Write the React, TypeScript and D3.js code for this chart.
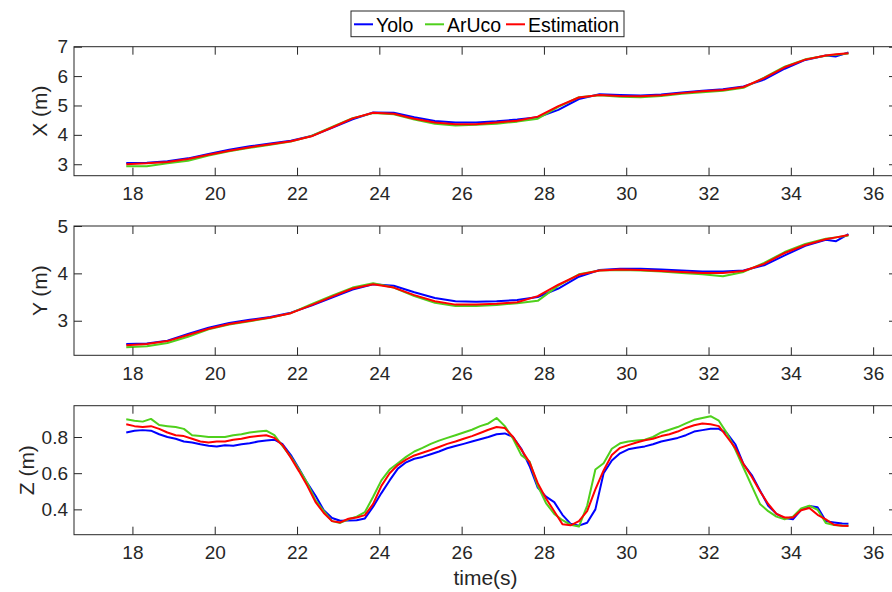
import React, { useEffect, useRef } from 'react';
import * as d3 from 'd3';

const seriesNames = ['Yolo', 'ArUco', 'Estimation'];
const seriesColors = ['#0000ff', '#4fd01c', '#ff0000'];
const timeTicks = [18, 20, 22, 24, 26, 28, 30, 32, 34, 36];

// X and Y panels
const timeXY = [17.85, 18.35, 18.85, 19.35, 19.85, 20.35, 20.85, 21.35, 21.85, 22.35, 22.85, 23.35, 23.85, 24.35, 24.85, 25.35, 25.85, 26.35, 26.85, 27.35, 27.85, 28.35, 28.85, 29.35, 29.85, 30.35, 30.85, 31.35, 31.85, 32.35, 32.85, 33.35, 33.85, 34.35, 34.85, 35.1, 35.4];
const xYolo = [3.04, 3.05, 3.1, 3.2, 3.35, 3.49, 3.61, 3.71, 3.8, 3.96, 4.24, 4.53, 4.76, 4.75, 4.6, 4.47, 4.42, 4.42, 4.46, 4.52, 4.6, 4.85, 5.22, 5.38, 5.36, 5.34, 5.37, 5.44, 5.5, 5.55, 5.65, 5.88, 6.25, 6.55, 6.7, 6.67, 6.8];
const xAruco = [2.93, 2.93, 3.03, 3.12, 3.3, 3.44, 3.56, 3.66, 3.77, 3.96, 4.27, 4.57, 4.74, 4.7, 4.52, 4.38, 4.32, 4.34, 4.38, 4.45, 4.55, 4.95, 5.28, 5.35, 5.3, 5.28, 5.32, 5.4, 5.45, 5.5, 5.6, 5.95, 6.32, 6.57, 6.69, 6.73, 6.77];
const xEst = [3.0, 3.03, 3.08, 3.18, 3.32, 3.46, 3.58, 3.68, 3.78, 3.95, 4.25, 4.56, 4.75, 4.72, 4.55, 4.42, 4.36, 4.36, 4.42, 4.48, 4.62, 4.98, 5.27, 5.36, 5.32, 5.31, 5.35, 5.42, 5.48, 5.53, 5.63, 5.93, 6.3, 6.56, 6.7, 6.74, 6.78];
const yYolo = [2.51, 2.52, 2.58, 2.72, 2.85, 2.95, 3.02, 3.08, 3.17, 3.32, 3.49, 3.66, 3.77, 3.74, 3.6, 3.48, 3.41, 3.4, 3.41, 3.44, 3.5, 3.68, 3.93, 4.07, 4.1, 4.1, 4.08, 4.06, 4.04, 4.04, 4.06, 4.17, 4.38, 4.58, 4.71, 4.68, 4.83];
const yAruco = [2.44, 2.46, 2.53, 2.66, 2.82, 2.92, 2.99, 3.06, 3.16, 3.35, 3.53, 3.7, 3.79, 3.7, 3.52, 3.38, 3.31, 3.31, 3.33, 3.37, 3.42, 3.74, 3.98, 4.06, 4.07, 4.06, 4.04, 4.01, 3.98, 3.94, 4.03, 4.22, 4.45, 4.62, 4.73, 4.76, 4.8];
const yEst = [2.48, 2.51, 2.57, 2.7, 2.83, 2.93, 3.0, 3.07, 3.16, 3.33, 3.51, 3.68, 3.77, 3.7, 3.54, 3.41, 3.34, 3.34, 3.36, 3.39, 3.52, 3.76, 3.97, 4.06, 4.08, 4.07, 4.05, 4.03, 4.01, 4.01, 4.05, 4.2, 4.43, 4.6, 4.72, 4.76, 4.81];

// Z panel
const timeZ = [17.85, 18.05, 18.25, 18.45, 18.65, 18.85, 19.05, 19.25, 19.45, 19.65, 19.85, 20.05, 20.25, 20.45, 20.65, 20.85, 21.05, 21.25, 21.45, 21.65, 21.85, 22.05, 22.25, 22.45, 22.65, 22.85, 23.05, 23.25, 23.45, 23.65, 23.85, 24.05, 24.25, 24.45, 24.65, 24.85, 25.05, 25.25, 25.45, 25.65, 25.85, 26.05, 26.25, 26.45, 26.65, 26.85, 27.05, 27.25, 27.45, 27.65, 27.85, 28.05, 28.25, 28.45, 28.65, 28.85, 29.05, 29.25, 29.45, 29.65, 29.85, 30.05, 30.25, 30.45, 30.65, 30.85, 31.05, 31.25, 31.45, 31.65, 31.85, 32.05, 32.25, 32.45, 32.65, 32.85, 33.05, 33.25, 33.45, 33.65, 33.85, 34.05, 34.25, 34.45, 34.65, 34.85, 35.05, 35.25, 35.4];
const zYolo = [0.825, 0.835, 0.838, 0.835, 0.815, 0.8, 0.79, 0.775, 0.77, 0.76, 0.752, 0.748, 0.755, 0.752, 0.76, 0.765, 0.775, 0.78, 0.785, 0.76, 0.7, 0.625, 0.545, 0.475, 0.395, 0.352, 0.337, 0.338, 0.34, 0.35, 0.415, 0.49, 0.56, 0.625, 0.66, 0.68, 0.69, 0.705, 0.72, 0.738, 0.75, 0.762, 0.775, 0.788, 0.8, 0.815, 0.82, 0.8, 0.735, 0.64, 0.52, 0.47, 0.44, 0.37, 0.32, 0.31, 0.326, 0.4, 0.6, 0.67, 0.71, 0.732, 0.74, 0.748, 0.76, 0.775, 0.785, 0.795, 0.81, 0.83, 0.838, 0.845, 0.845, 0.82, 0.76, 0.65, 0.59, 0.505, 0.42, 0.375, 0.352, 0.345, 0.398, 0.418, 0.412, 0.335, 0.328, 0.322, 0.32];
const zAruco = [0.898, 0.89, 0.885, 0.9, 0.866, 0.86, 0.855, 0.845, 0.81, 0.805, 0.8, 0.8, 0.8, 0.81, 0.815, 0.825, 0.83, 0.835, 0.81, 0.75, 0.69, 0.62, 0.545, 0.45, 0.39, 0.335, 0.325, 0.345, 0.36, 0.385, 0.47, 0.56, 0.62, 0.655, 0.69, 0.72, 0.74, 0.762, 0.78, 0.795, 0.81, 0.825, 0.84, 0.86, 0.875, 0.905, 0.86, 0.79, 0.7, 0.665, 0.53, 0.435, 0.375, 0.34, 0.315, 0.305, 0.42, 0.62, 0.655, 0.735, 0.765, 0.775, 0.78, 0.785, 0.8, 0.825, 0.84, 0.855, 0.875, 0.895, 0.905, 0.915, 0.89, 0.82, 0.73, 0.63, 0.53, 0.43, 0.39, 0.36, 0.345, 0.36, 0.405, 0.42, 0.398, 0.325, 0.313, 0.31, 0.31];
const zEst = [0.87, 0.86, 0.855, 0.86, 0.845, 0.825, 0.81, 0.805, 0.79, 0.775, 0.77, 0.775, 0.775, 0.785, 0.79, 0.8, 0.805, 0.81, 0.795, 0.755, 0.685, 0.61, 0.53, 0.44, 0.38, 0.335, 0.328, 0.348, 0.355, 0.368, 0.43, 0.53, 0.6, 0.645, 0.675, 0.698, 0.713, 0.728, 0.745, 0.762, 0.775, 0.79, 0.805, 0.822, 0.84, 0.855, 0.85, 0.8, 0.73, 0.66, 0.545, 0.46, 0.39, 0.318, 0.312, 0.335, 0.39, 0.51, 0.615, 0.7, 0.74, 0.755, 0.77, 0.782, 0.79, 0.805, 0.815, 0.83, 0.85, 0.865, 0.875, 0.87, 0.86, 0.8, 0.74, 0.65, 0.58, 0.5, 0.43, 0.375, 0.355, 0.355, 0.395, 0.408, 0.37, 0.345, 0.315, 0.31, 0.308];

const FONT = '"Liberation Sans", Arial, Helvetica, sans-serif';
const INK = '#262626';

const App = () => {
  const svgRef = useRef<SVGSVGElement>(null);

  useEffect(() => {
    const svg = d3.select(svgRef.current);
    svg.selectAll('*').remove();

    const left = 74;
    const right = 897;
    const x = d3.scaleLinear().domain([16.58, 36.58]).range([left, right]);

    const panels = [
      { label: 'X (m)', top: 46.7, bottom: 175.7, domain: [2.61, 7], ticks: [3, 4, 5, 6, 7], fmt: d3.format('d'), time: timeXY, series: [xYolo, xAruco, xEst], labelX: 47 },
      { label: 'Y (m)', top: 226, bottom: 355.3, domain: [2.27, 5], ticks: [3, 4, 5], fmt: d3.format('d'), time: timeXY, series: [yYolo, yAruco, yEst], labelX: 47 },
      { label: 'Z (m)', top: 405.7, bottom: 534.7, domain: [0.26, 0.973], ticks: [0.4, 0.6, 0.8], fmt: d3.format('.1f'), time: timeZ, series: [zYolo, zAruco, zEst], labelX: 34 },
    ];

    panels.forEach((p) => {
      const y = d3.scaleLinear().domain(p.domain).range([p.bottom, p.top]);
      const g = svg.append('g');

      // lines
      p.series.forEach((vals, i) => {
        const line = d3
          .line<number>()
          .x((_, k) => x(p.time[k]))
          .y((d) => y(d));
        g.append('path')
          .datum(vals)
          .attr('d', line)
          .attr('fill', 'none')
          .attr('stroke', seriesColors[i])
          .attr('stroke-width', 2)
          .attr('stroke-linejoin', 'round');
      });

      // axes, ticks pointing inward
      const styleAxis = (sel: any) => {
        sel.select('.domain').remove();
        sel.selectAll('line').attr('stroke', INK).attr('stroke-width', 1);
        sel.selectAll('text').attr('fill', INK).style('font-family', FONT).style('font-size', '19px');
      };
      g.append('g')
        .attr('transform', `translate(0,${p.bottom})`)
        .call(d3.axisBottom(x).tickValues(timeTicks).tickFormat(d3.format('d')).tickSizeInner(-8).tickSizeOuter(0).tickPadding(11))
        .call(styleAxis);
      g.append('g')
        .attr('transform', `translate(0,${p.top})`)
        .call(d3.axisTop(x).tickValues(timeTicks).tickFormat(() => '').tickSizeInner(-8).tickSizeOuter(0))
        .call(styleAxis);
      g.append('g')
        .attr('transform', `translate(${left},0)`)
        .call(d3.axisLeft(y).tickValues(p.ticks).tickFormat(p.fmt).tickSizeInner(-8).tickSizeOuter(0).tickPadding(6))
        .call(styleAxis);
      g.append('g')
        .attr('transform', `translate(${right},0)`)
        .call(d3.axisRight(y).tickValues(p.ticks).tickFormat(() => '').tickSizeInner(-8).tickSizeOuter(0))
        .call(styleAxis);

      g.append('rect')
        .attr('x', left)
        .attr('y', p.top)
        .attr('width', right - left)
        .attr('height', p.bottom - p.top)
        .attr('fill', 'none')
        .attr('stroke', INK)
        .attr('stroke-width', 1);

      g.append('text')
        .attr('transform', `translate(${p.labelX},${(p.top + p.bottom) / 2}) rotate(-90)`)
        .attr('text-anchor', 'middle')
        .attr('fill', INK)
        .style('font-family', FONT)
        .style('font-size', '21px')
        .text(p.label);
    });

    svg.append('text')
      .attr('x', (left + right) / 2)
      .attr('y', 585)
      .attr('text-anchor', 'middle')
      .attr('fill', INK)
      .style('font-family', FONT)
      .style('font-size', '21px')
      .text('time(s)');

    // legend
    const legend = svg.append('g');
    legend.append('rect')
      .attr('x', 351)
      .attr('y', 11)
      .attr('width', 273)
      .attr('height', 25.7)
      .attr('fill', '#fff')
      .attr('stroke', INK)
      .attr('stroke-width', 1);
    const itemX = [354, 425, 506];
    seriesNames.forEach((name, i) => {
      legend.append('line')
        .attr('x1', itemX[i])
        .attr('x2', itemX[i] + 19)
        .attr('y1', 24.3)
        .attr('y2', 24.3)
        .attr('stroke', seriesColors[i])
        .attr('stroke-width', 2);
      legend.append('text')
        .attr('x', itemX[i] + 22)
        .attr('y', 31.5)
        .attr('fill', '#000')
        .style('font-family', FONT)
        .style('font-size', '19.5px')
        .text(name);
    });
  }, []);

  return (
    <svg
      ref={svgRef}
      width={892}
      height={592}
      style={{ position: 'absolute', left: 0, top: 0, background: '#fff' }}
    ></svg>
  );
};

export default App;
